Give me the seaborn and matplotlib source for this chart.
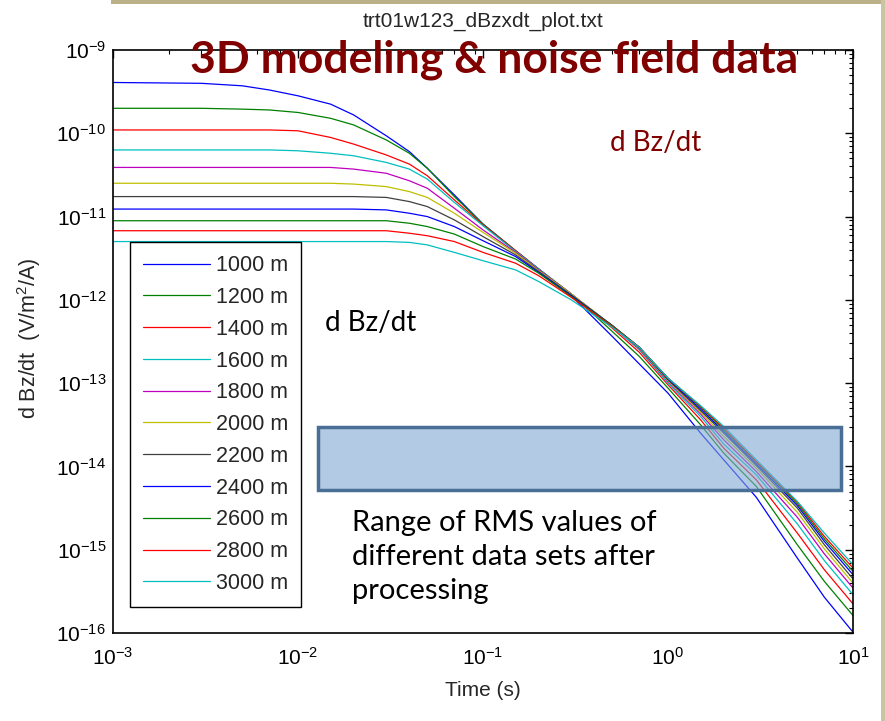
import numpy as np
import pandas as pd
import matplotlib
matplotlib.use("Agg")
import matplotlib.pyplot as plt
import seaborn as sns
from matplotlib.patches import Rectangle
from matplotlib.ticker import LogLocator, NullFormatter


# sample times (s) at which the curves were read
time_s = [1e-3, 3e-3, 5e-3, 7e-3, 1e-2, 1.5e-2, 2e-2, 3e-2, 4e-2, 5e-2, 7e-2, 0.1, 0.15, 0.2, 0.3,
          0.5, 0.7, 1, 1.5, 2, 3, 5, 7, 10]

# log10 of dBz/dt (V/m^2/A), one list per offset
log_dbz_1000 = [-9.39, -9.40, -9.43, -9.48, -9.55, -9.65, -9.78, -10.03, -10.22, -10.42, -10.74, -11.09,
                -11.41, -11.63, -11.95, -12.44, -12.77, -13.12, -13.60, -13.92, -14.37, -15.10, -15.57, -15.99]
log_dbz_1200 = [-9.70, -9.70, -9.71, -9.72, -9.75, -9.82, -9.90, -10.08, -10.24, -10.42, -10.76, -11.09,
                -11.41, -11.63, -11.93, -12.38, -12.68, -13.06, -13.50, -13.84, -14.24, -14.94, -15.38, -15.79]
log_dbz_1400 = [-9.96, -9.96, -9.96, -9.96, -9.97, -10.05, -10.13, -10.26, -10.37, -10.51, -10.80, -11.10,
                -11.41, -11.63, -11.93, -12.34, -12.63, -13.02, -13.44, -13.78, -14.16, -14.80, -15.24, -15.65]
log_dbz_1600 = [-10.20, -10.20, -10.20, -10.20, -10.21, -10.24, -10.27, -10.35, -10.43, -10.55, -10.83, -11.11,
                -11.42, -11.63, -11.93, -12.32, -12.60, -13.00, -13.40, -13.73, -14.10, -14.69, -15.13, -15.54]
log_dbz_1800 = [-10.41, -10.41, -10.41, -10.41, -10.41, -10.41, -10.43, -10.48, -10.57, -10.66, -10.90, -11.16,
                -11.43, -11.64, -11.93, -12.31, -12.59, -12.98, -13.37, -13.68, -14.06, -14.61, -15.05, -15.46]
log_dbz_2000 = [-10.60, -10.60, -10.60, -10.60, -10.60, -10.60, -10.61, -10.64, -10.70, -10.77, -10.96, -11.19,
                -11.44, -11.65, -11.93, -12.31, -12.58, -12.97, -13.35, -13.64, -14.02, -14.55, -14.99, -15.40]
log_dbz_2200 = [-10.76, -10.76, -10.76, -10.76, -10.76, -10.76, -10.76, -10.77, -10.82, -10.88, -11.04, -11.24,
                -11.46, -11.66, -11.94, -12.31, -12.57, -12.96, -13.33, -13.60, -13.99, -14.50, -14.94, -15.35]
log_dbz_2400 = [-10.91, -10.91, -10.91, -10.91, -10.91, -10.91, -10.91, -10.92, -10.96, -11.00, -11.12, -11.29,
                -11.48, -11.67, -11.95, -12.31, -12.57, -12.95, -13.31, -13.58, -13.97, -14.47, -14.90, -15.30]
log_dbz_2600 = [-11.05, -11.05, -11.05, -11.05, -11.05, -11.05, -11.05, -11.05, -11.08, -11.12, -11.21, -11.36,
                -11.51, -11.68, -11.96, -12.31, -12.57, -12.94, -13.29, -13.56, -13.95, -14.45, -14.87, -15.26]
log_dbz_2800 = [-11.17, -11.17, -11.17, -11.17, -11.17, -11.17, -11.17, -11.17, -11.20, -11.23, -11.30, -11.43,
                -11.56, -11.71, -11.97, -12.32, -12.57, -12.94, -13.28, -13.54, -13.94, -14.43, -14.84, -15.22]
log_dbz_3000 = [-11.30, -11.30, -11.30, -11.30, -11.30, -11.30, -11.30, -11.30, -11.31, -11.34, -11.43, -11.53,
                -11.64, -11.78, -12.00, -12.33, -12.57, -12.94, -13.27, -13.52, -13.92, -14.42, -14.80, -15.18]

offsets_m = [1000, 1200, 1400, 1600, 1800, 2000, 2200, 2400, 2600, 2800, 3000]
line_colors = ['#0000ff', '#008000', '#ff0000', '#00bfbf', '#bf00bf', '#bfbf00',
               '#404040', '#0000ff', '#008000', '#ff0000', '#00bfbf']

# shaded band: range of RMS noise levels after processing
rms_time = [0.0128, 8.6]
rms_level = [5.2e-15, 2.95e-14]

curves = [log_dbz_1000, log_dbz_1200, log_dbz_1400, log_dbz_1600, log_dbz_1800, log_dbz_2000,
          log_dbz_2200, log_dbz_2400, log_dbz_2600, log_dbz_2800, log_dbz_3000]

rows = []
for off, vals in zip(offsets_m, curves):
    for t, v in zip(time_s, vals):
        rows.append({'time': t, 'dbz': 10.0 ** v, 'offset': f"{off} m"})
df = pd.DataFrame(rows)
hue_order = [f"{o} m" for o in offsets_m]

sns.set_style('white')
plt.rcParams['font.family'] = ['Liberation Sans', 'DejaVu Sans']
plt.rcParams['mathtext.fontset'] = 'custom'
plt.rcParams['mathtext.rm'] = 'Liberation Sans'
plt.rcParams['mathtext.it'] = 'Liberation Sans'
plt.rcParams['mathtext.default'] = 'regular'
plt.rcParams['axes.unicode_minus'] = False

fig = plt.figure(figsize=(8.85, 7.21), dpi=100)
fig.patch.set_facecolor('white')
ax = fig.add_axes([113 / 885, 1 - 633 / 721, 740 / 885, 583 / 721])

sns.lineplot(data=df, x='time', y='dbz', hue='offset', hue_order=hue_order,
             palette=line_colors, estimator=None, linewidth=0.9, ax=ax)

ax.set_xscale('log')
ax.set_yscale('log')
ax.set_xlim(1e-3, 10)
ax.set_ylim(1e-16, 1e-9)

ax.xaxis.set_major_locator(LogLocator(base=10, numticks=10))
ax.yaxis.set_major_locator(LogLocator(base=10, numticks=10))
ax.xaxis.set_minor_locator(LogLocator(base=10, subs=np.arange(2, 10), numticks=20))
ax.yaxis.set_minor_locator(LogLocator(base=10, subs=np.arange(2, 10), numticks=20))
ax.xaxis.set_minor_formatter(NullFormatter())
ax.yaxis.set_minor_formatter(NullFormatter())
ax.tick_params(which='both', direction='in', top=True, right=True, colors='black')
ax.tick_params(which='major', length=6, width=1, labelsize=15, pad=5)
ax.tick_params(axis='x', which='major', pad=10)
ax.tick_params(which='minor', length=3, width=0.8)
for sp in ax.spines.values():
    sp.set_color('black')
    sp.set_linewidth(1.2)

ax.set_xlabel('Time (s)', fontsize=15)
ax.set_ylabel('d Bz/dt  (V/m$^2$/A)', fontsize=15.5)
ax.xaxis.set_label_coords(0.5, -0.082)
ax.yaxis.set_label_coords(-0.095, 0.505)
ax.set_title('trt01w123_dBzxdt_plot.txt', fontsize=15, pad=17)

# RMS band
ax.add_patch(Rectangle((rms_time[0], rms_level[0]), rms_time[1] - rms_time[0],
                       rms_level[1] - rms_level[0],
                       facecolor=(0.50, 0.66, 0.82, 0.6), edgecolor='#4a6f97',
                       linewidth=2.5, zorder=5))

handles, labels = ax.get_legend_handles_labels()
leg = ax.legend(handles, labels, loc='lower left', bbox_to_anchor=(0.023, 0.045),
                borderaxespad=0, fontsize=15.5, frameon=True, fancybox=False, framealpha=1,
                edgecolor='black', handlelength=3.1, handletextpad=0.3,
                labelspacing=0.5, borderpad=0.6)
leg.get_frame().set_linewidth(1.0)
leg.set_zorder(10)

# slide annotations
fig.text(494 / 885, 1 - 60 / 721, '3D modeling & noise field data', color='#800000',
         fontsize=32, fontweight='bold', family='Lato', ha='center', va='center')
fig.text(656 / 885, 1 - 143 / 721, 'd Bz/dt', color='#800000', fontsize=20,
         family='Lato', ha='center', va='center')
fig.text(371 / 885, 1 - 323 / 721, 'd Bz/dt', color='black', fontsize=20,
         family='Lato', ha='center', va='center')
fig.text(352 / 885, 1 - 510 / 721, 'Range of RMS values of\ndifferent data sets after\nprocessing',
         color='black', fontsize=21, family='Lato', ha='left', va='top', linespacing=1.38)

# slide trim
fig.patches.append(Rectangle((0.125, 0.995), 0.875, 0.005, transform=fig.transFigure,
                             facecolor='#bcb089', edgecolor='none'))
fig.patches.append(Rectangle((0.996, 0.0), 0.004, 1.0, transform=fig.transFigure,
                             facecolor='#c9c4a4', edgecolor='none'))

fig.savefig('out.png', dpi=100)
